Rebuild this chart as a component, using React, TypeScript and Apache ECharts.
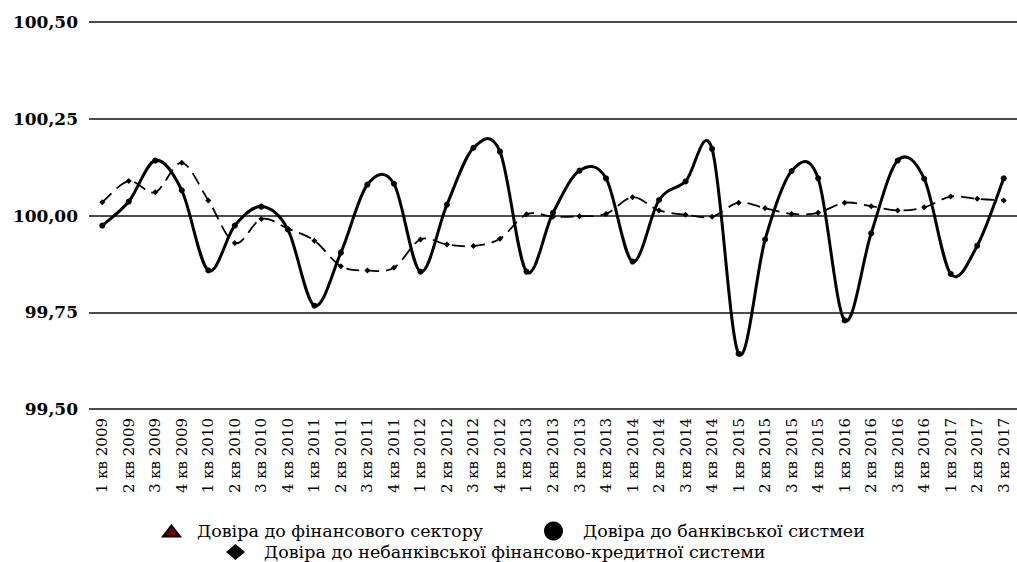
import React, { useEffect, useRef } from "react";
import * as echarts from "echarts";

const categories = [
  "1 кв 2009", "2 кв 2009", "3 кв 2009", "4 кв 2009",
  "1 кв 2010", "2 кв 2010", "3 кв 2010", "4 кв 2010",
  "1 кв 2011", "2 кв 2011", "3 кв 2011", "4 кв 2011",
  "1 кв 2012", "2 кв 2012", "3 кв 2012", "4 кв 2012",
  "1 кв 2013", "2 кв 2013", "3 кв 2013", "4 кв 2013",
  "1 кв 2014", "2 кв 2014", "3 кв 2014", "4 кв 2014",
  "1 кв 2015", "2 кв 2015", "3 кв 2015", "4 кв 2015",
  "1 кв 2016", "2 кв 2016", "3 кв 2016", "4 кв 2016",
  "1 кв 2017", "2 кв 2017", "3 кв 2017",
];

const financialSector: number[] = [];

const bankingSystem = [
  99.974, 100.036, 100.142, 100.065,
  99.858, 99.974, 100.023, 99.964,
  99.767, 99.904, 100.080, 100.082,
  99.855, 100.028, 100.175, 100.165,
  99.855, 100.007, 100.116, 100.096,
  99.881, 100.040, 100.088, 100.172,
  99.643, 99.938, 100.115, 100.096,
  99.729, 99.954, 100.142, 100.095,
  99.849, 99.922, 100.096,
];

const nonBankingSystem = [
  100.034, 100.089, 100.060, 100.136,
  100.039, 99.929, 99.991, 99.966,
  99.935, 99.869, 99.858, 99.865,
  99.938, 99.925, 99.921, 99.940,
  100.003, 99.997, 99.998, 100.004,
  100.047, 100.013, 100.002, 99.997,
  100.033, 100.019, 100.004, 100.007,
  100.033, 100.024, 100.013, 100.021,
  100.049, 100.043, 100.039,
];

const seriesNames = [
  "Довіра до фінансового сектору",
  "Довіра до банківської систмеи",
  "Довіра до небанківської фінансово-кредитної системи",
];

const yTicks = { min: 99.5, max: 100.5, interval: 0.25 };

// Catmull-Rom spline through pixel points, as cubic bezier path data
function splinePath(pts: number[][]): string {
  if (!pts.length) return "";
  let d = `M${pts[0][0]},${pts[0][1]}`;
  for (let i = 0; i < pts.length - 1; i++) {
    const p0 = pts[i - 1] || pts[i];
    const p1 = pts[i];
    const p2 = pts[i + 1];
    const p3 = pts[i + 2] || p2;
    const c1x = p1[0] + (p2[0] - p0[0]) / 6;
    const c1y = p1[1] + (p2[1] - p0[1]) / 6;
    const c2x = p2[0] - (p3[0] - p1[0]) / 6;
    const c2y = p2[1] - (p3[1] - p1[1]) / 6;
    d += ` C${c1x},${c1y} ${c2x},${c2y} ${p2[0]},${p2[1]}`;
  }
  return d;
}

function smoothSeries(values: number[], name: string, lineStyle: any, z: number) {
  return {
    name,
    type: "custom",
    data: values.map((v, i) => [i, v]),
    z,
    silent: true,
    renderItem: (params: any, api: any) => {
      if (params.dataIndex !== 0) return null;
      const pts = values.map((v, i) => api.coord([i, v]));
      return {
        type: "path",
        shape: { pathData: splinePath(pts) },
        style: { fill: "none", stroke: "#000", ...lineStyle },
      };
    },
  };
}

export default function App() {
  const ref = useRef<HTMLDivElement>(null);

  useEffect(() => {
    if (!ref.current) return;
    const chart = echarts.init(ref.current, undefined, { renderer: "svg" });
    const legendText = (pad: number) => ({
      fontFamily: "DejaVu Serif",
      fontSize: 17.5,
      lineHeight: 20,
      color: "#000",
      padding: [0, 0, 0, pad],
    });
    chart.setOption({
      animation: false,
      backgroundColor: "#fff",
      grid: { left: 89, right: -7, top: 22, bottom: 153, containLabel: false },
      xAxis: {
        type: "category",
        data: categories,
        boundaryGap: true,
        axisLine: { show: false },
        axisTick: { show: false },
        splitLine: { show: false },
        axisLabel: {
          interval: 0,
          rotate: 90,
          margin: 9,
          fontFamily: "DejaVu Serif",
          fontSize: 15,
          color: "#000",
        },
      },
      yAxis: {
        type: "value",
        min: yTicks.min,
        max: yTicks.max,
        interval: yTicks.interval,
        axisLine: { show: false },
        axisTick: { show: false },
        splitLine: { show: true, lineStyle: { color: "#111", width: 1.5 } },
        axisLabel: {
          margin: 11,
          fontFamily: "DejaVu Serif",
          fontWeight: "bold",
          fontSize: 17,
          color: "#000",
          formatter: (v: number) => v.toFixed(2).replace(".", ","),
        },
      },
      legend: [
        {
          data: [seriesNames[0]],
          icon: "triangle",
          left: 157,
          top: 516,
          itemWidth: 17,
          itemHeight: 11,
          textStyle: legendText(12),
        },
        {
          data: [seriesNames[1]],
          icon: "circle",
          left: 539,
          top: 516,
          itemWidth: 19,
          itemHeight: 19,
          textStyle: legendText(15),
        },
        {
          data: [seriesNames[2]],
          icon: "diamond",
          left: 221,
          top: 537,
          itemWidth: 19,
          itemHeight: 16,
          textStyle: legendText(14),
        },
      ],
      series: [
        {
          name: seriesNames[0],
          type: "line",
          data: financialSector,
          symbol: "triangle",
          itemStyle: { color: "#6e0000", borderColor: "#000", borderWidth: 0.5 },
          lineStyle: { color: "#6e0000" },
        },
        smoothSeries(bankingSystem, "banking-line", { lineWidth: 3 }, 3),
        smoothSeries(nonBankingSystem, "nonbanking-line", { lineWidth: 1.8, lineDash: [13, 7] }, 2),
        {
          name: seriesNames[1],
          type: "line",
          data: bankingSystem,
          symbol: "circle",
          symbolSize: 6,
          itemStyle: { color: "#000" },
          lineStyle: { opacity: 0 },
          z: 4,
        },
        {
          name: seriesNames[2],
          type: "line",
          data: nonBankingSystem,
          symbol: "diamond",
          symbolSize: 6,
          itemStyle: { color: "#000" },
          lineStyle: { opacity: 0 },
          z: 4,
        },
      ],
    });
    return () => chart.dispose();
  }, []);

  return (
    <div
      ref={ref}
      style={{ position: "fixed", left: 0, top: 0, width: 1017, height: 562 }}
    />
  );
}
